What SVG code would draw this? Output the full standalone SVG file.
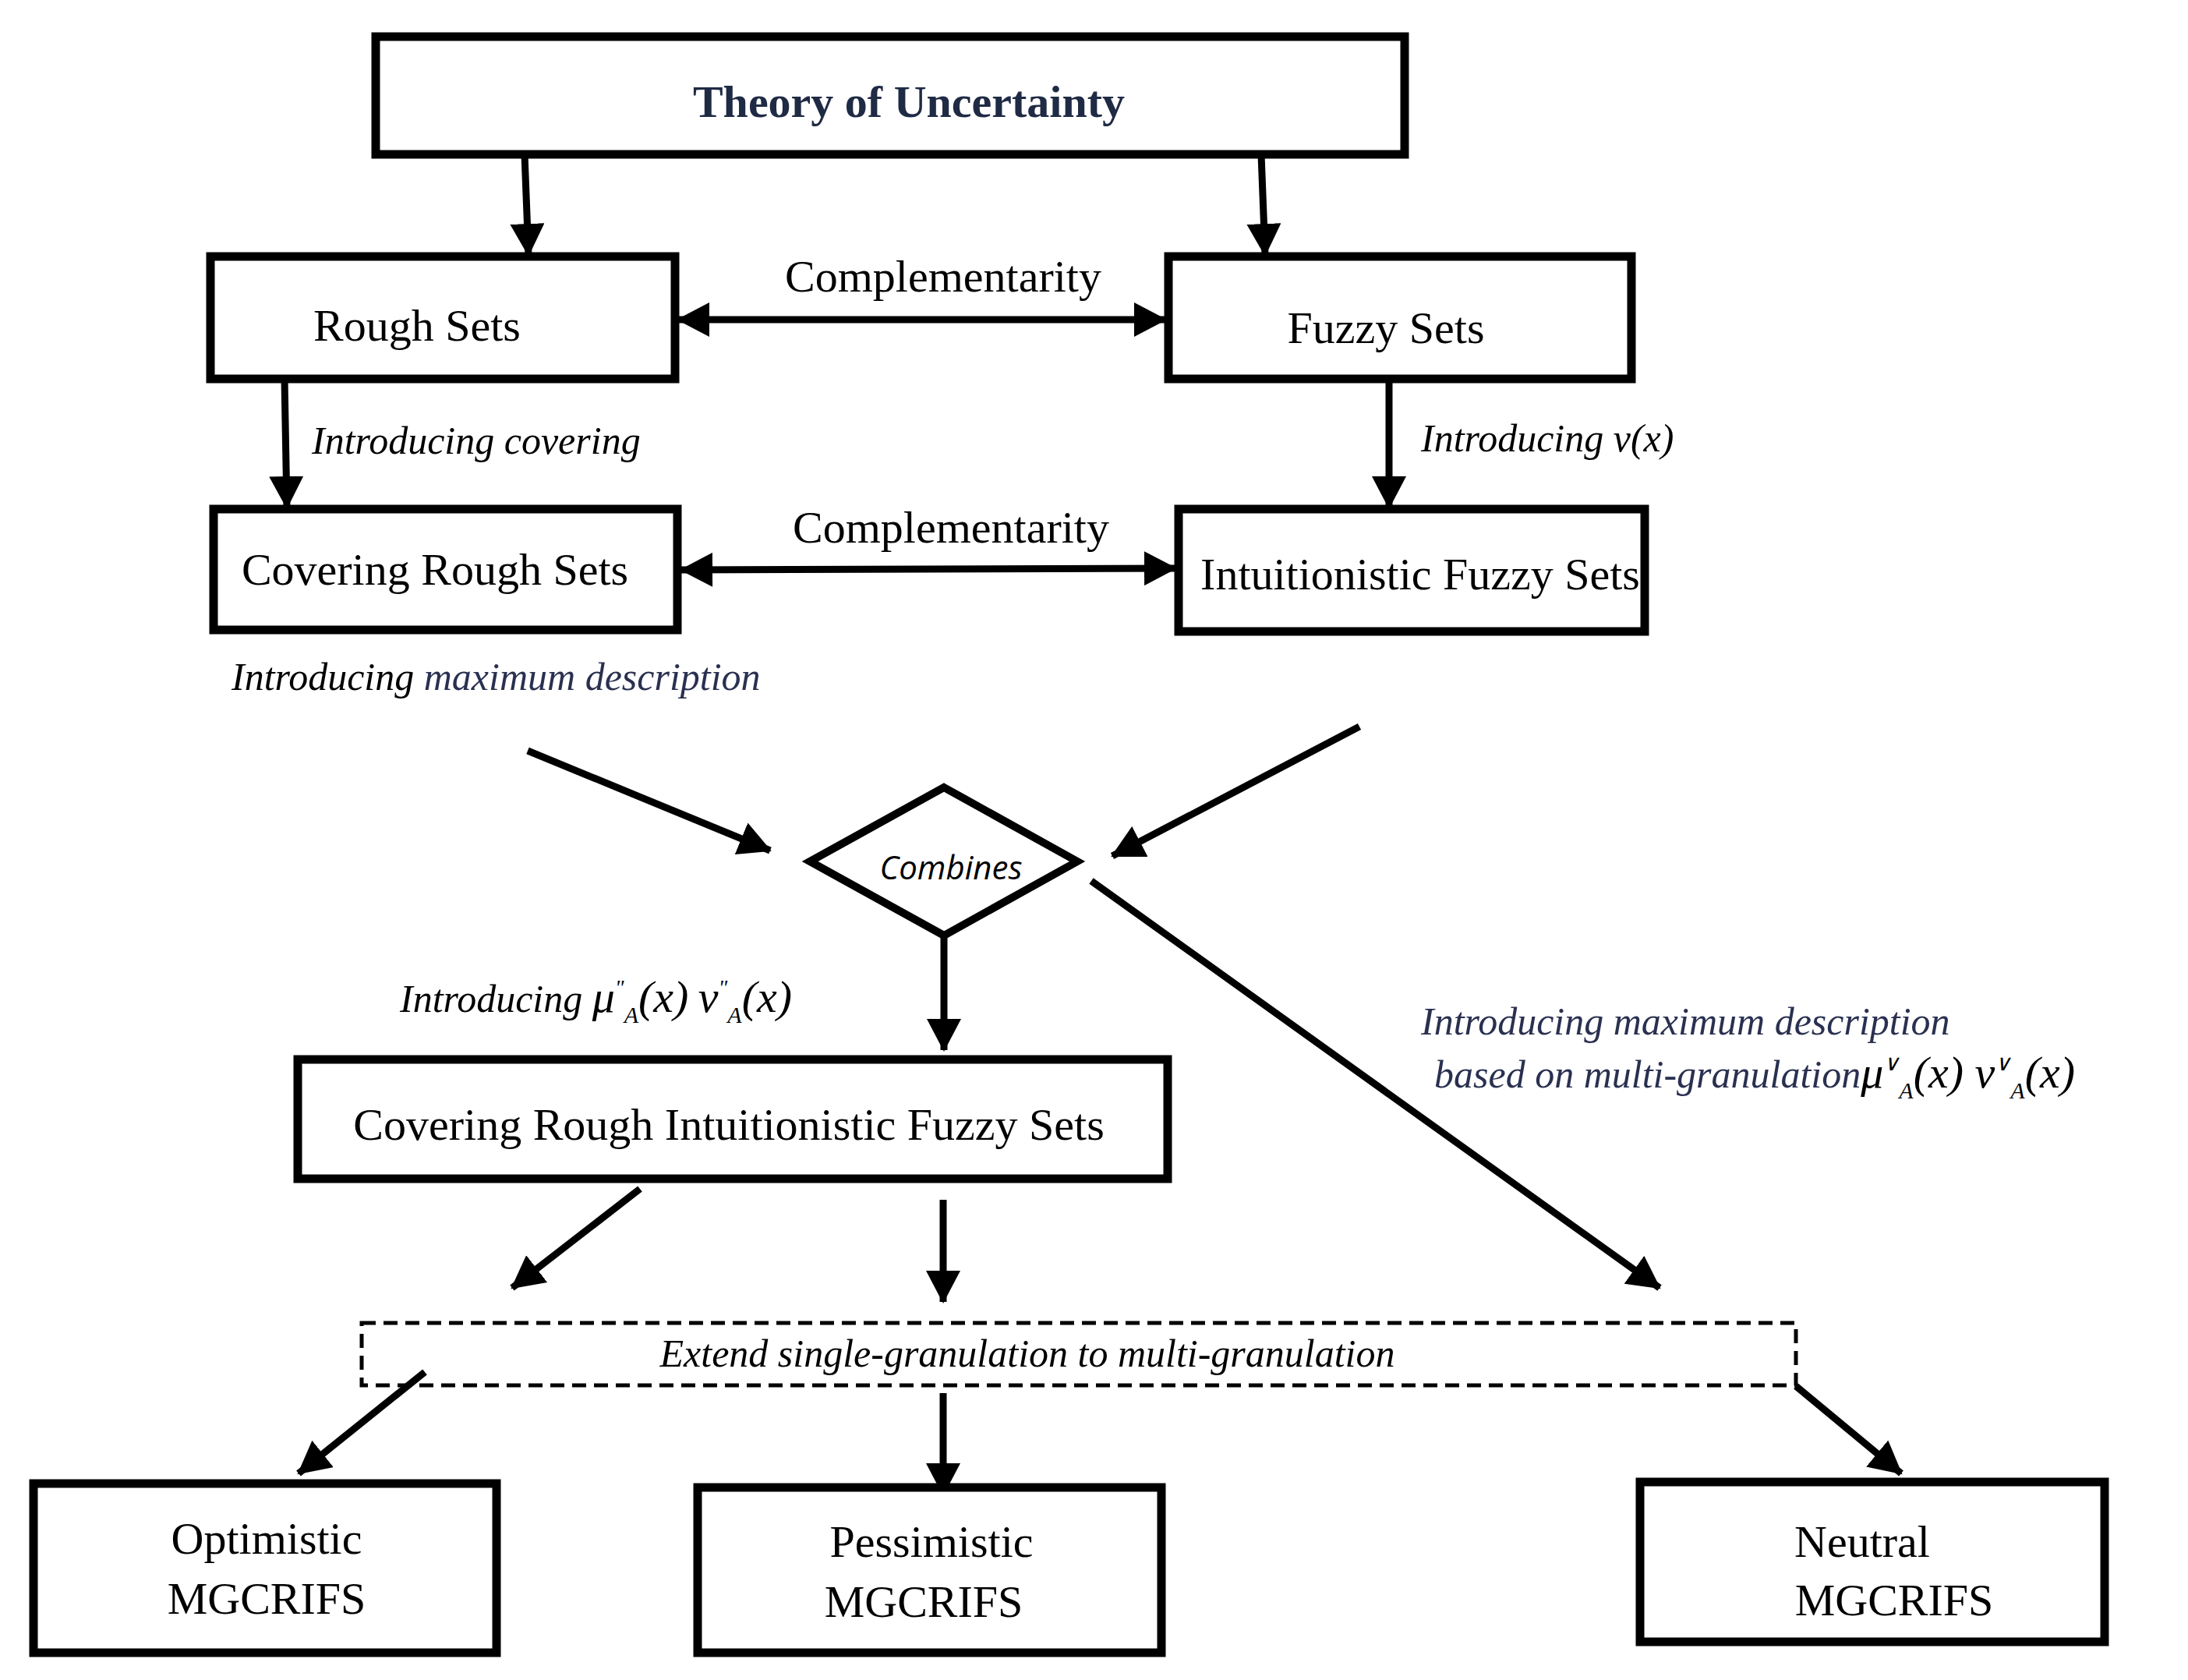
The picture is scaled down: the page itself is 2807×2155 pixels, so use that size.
<svg xmlns="http://www.w3.org/2000/svg" width="2807" height="2155" viewBox="0 0 2807 2155">
<style>
.box{fill:#fff;stroke:#000;stroke-width:11}
.t{font-family:"Liberation Serif",serif;font-size:58px;fill:#000;text-anchor:middle}
.i{font-family:"Liberation Serif",serif;font-style:italic;font-size:50px;fill:#000}
.n{fill:#2a3050}
.c{stroke:#000;stroke-width:9;fill:none}
</style>
<defs>
<marker id="ah" markerUnits="userSpaceOnUse" markerWidth="50" markerHeight="44" refX="40" refY="22" orient="auto"><path d="M0,0 L42,22 L0,44 Z" fill="#000"/></marker>
<marker id="as" markerUnits="userSpaceOnUse" markerWidth="50" markerHeight="44" refX="2" refY="22" orient="auto"><path d="M42,0 L0,22 L42,44 Z" fill="#000"/></marker>
</defs>
<rect width="2807" height="2155" fill="#fff"/>
<g id="connectors">
<line class="c" x1="673" y1="198" x2="678" y2="327" marker-end="url(#ah)"/>
<line class="c" x1="1618" y1="198" x2="1623" y2="327" marker-end="url(#ah)"/>
<line class="c" x1="870" y1="410" x2="1495" y2="410" stroke-width="13" marker-start="url(#as)" marker-end="url(#ah)"/>
<line class="c" x1="365" y1="486" x2="368" y2="651" marker-end="url(#ah)"/>
<line class="c" x1="1782" y1="486" x2="1782" y2="651" marker-end="url(#ah)"/>
<line class="c" x1="874" y1="731" x2="1508" y2="729" stroke-width="13" marker-start="url(#as)" marker-end="url(#ah)"/>
<line class="c" x1="677" y1="963" x2="988" y2="1091" marker-end="url(#ah)"/>
<line class="c" x1="1744" y1="932" x2="1427" y2="1098" marker-end="url(#ah)"/>
<line class="c" x1="1211" y1="1200" x2="1211" y2="1347" marker-end="url(#ah)"/>
<line class="c" x1="1400" y1="1130" x2="2129" y2="1652" marker-end="url(#ah)"/>
<line class="c" x1="821" y1="1525" x2="657" y2="1652" marker-end="url(#ah)"/>
<line class="c" x1="1210" y1="1539" x2="1210" y2="1670" marker-end="url(#ah)"/>
<line class="c" x1="545" y1="1760" x2="383" y2="1890" marker-end="url(#ah)"/>
<line class="c" x1="1210" y1="1787" x2="1210" y2="1917" marker-end="url(#ah)"/>
<line class="c" x1="2304" y1="1778" x2="2439" y2="1890" marker-end="url(#ah)"/>
</g>
<g id="theory"><rect class="box" x="482" y="47" width="1320" height="151"/><text class="t" x="1166" y="150" font-weight="bold" font-size="66" fill="#1f2a44" style="fill:#1f2a44">Theory of Uncertainty</text></g>
<g id="rough"><rect class="box" x="270" y="329" width="596" height="157"/><text class="t" x="535" y="437">Rough  Sets</text></g>
<g id="fuzzy"><rect class="box" x="1499" y="329" width="594" height="157"/><text class="t" x="1778" y="440">Fuzzy  Sets</text></g>
<text class="t" x="1210" y="374">Complementarity</text>
<text class="i" x="400" y="582">Introducing covering</text>
<text class="i" x="1823" y="579">Introducing v(x)</text>
<g id="crs"><rect class="box" x="274" y="653" width="595" height="155"/><text class="t" x="558" y="750" font-size="56">Covering Rough  Sets</text></g>
<g id="ifs"><rect class="box" x="1512" y="653" width="598" height="157"/><text class="t" x="1822" y="756" font-size="48">Intuitionistic  Fuzzy  Sets</text></g>
<text class="t" x="1220" y="696">Complementarity</text>
<text class="i" x="297" y="885">Introducing <tspan class="n">maximum description</tspan></text>
<g id="combines"><polygon points="1211,1010 1382,1105 1211,1200 1039,1105" fill="#fff" stroke="#000" stroke-width="10"/><text x="1220" y="1128" font-family="Open Sans,sans-serif" font-style="italic" font-size="42" text-anchor="middle">Combines</text></g>
<text class="i" x="513" y="1298">Introducing <tspan font-size="58">μ</tspan><tspan font-size="28" dy="-22">"</tspan><tspan font-size="30" dy="36">A</tspan><tspan font-size="58" dy="-14">(x)</tspan>   <tspan font-size="58">ν</tspan><tspan font-size="28" dy="-22">"</tspan><tspan font-size="30" dy="36">A</tspan><tspan font-size="58" dy="-14">(x)</tspan></text>
<text class="i n" x="1823" y="1327">Introducing maximum description</text>
<text class="i n" x="1840" y="1395">based on multi-granulation<tspan fill="#000" font-size="58">μ</tspan><tspan fill="#000" font-size="28" dy="-22">∨</tspan><tspan fill="#000" font-size="30" dy="36">A</tspan><tspan fill="#000" font-size="58" dy="-14">(x) ν</tspan><tspan fill="#000" font-size="28" dy="-22">∨</tspan><tspan fill="#000" font-size="30" dy="36">A</tspan><tspan fill="#000" font-size="58" dy="-14">(x)</tspan></text>
<g id="crifs"><rect class="box" x="382" y="1359" width="1116" height="153"/><text class="t" x="935" y="1462">Covering Rough Intuitionistic Fuzzy Sets</text></g>
<g id="extend"><rect x="464" y="1697" width="1840" height="80" fill="none" stroke="#000" stroke-width="5" stroke-dasharray="18,10"/><text class="i" x="1318" y="1753" font-size="72" text-anchor="middle">Extend single-granulation to multi-granulation</text></g>
<g id="opt"><rect class="box" x="43" y="1903" width="594" height="217"/><text class="t" x="342" y="1993">Optimistic</text><text class="t" x="342" y="2070">MGCRIFS</text></g>
<g id="pes"><rect class="box" x="895" y="1908" width="595" height="212"/><text class="t" x="1195" y="1997">Pessimistic</text><text class="t" x="1185" y="2074">MGCRIFS</text></g>
<g id="neu"><rect class="box" x="2104" y="1901" width="596" height="205"/><text class="t" x="2389" y="1997">Neutral</text><text class="t" x="2430" y="2072">MGCRIFS</text></g>
</svg>
